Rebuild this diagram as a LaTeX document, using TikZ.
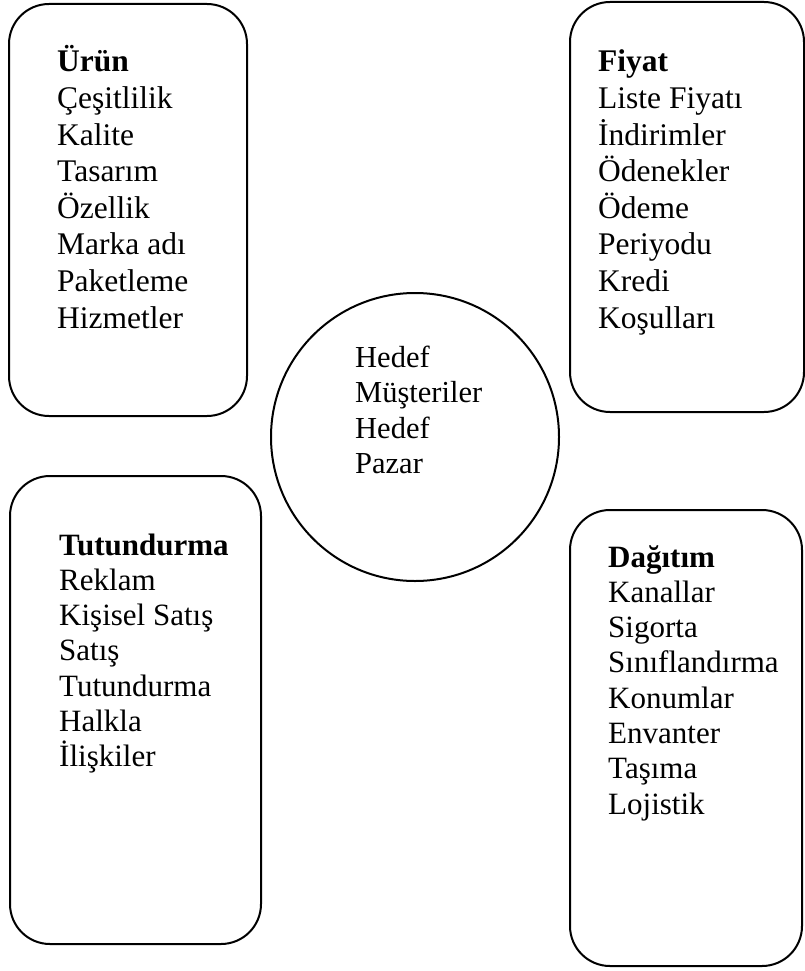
\documentclass[tikz,border=0pt]{standalone}
\usepackage{fontspec}
\setmainfont{Liberation Serif}
\usetikzlibrary{positioning}

\newcommand{\itemlist}[1]{\parbox[t]{200pt}{\raggedright #1}}

\begin{document}
\begin{tikzpicture}[x=1pt, y=-1pt,
  mixbox/.style={draw, rectangle, rounded corners=40pt, line width=2pt, inner sep=0pt},
  mixtext/.style={anchor=base west, inner sep=0pt, font=\fontsize{31.5}{36}\selectfont}]
  \useasboundingbox (0,0) rectangle (805,971);

  % the four boxes and the target in the middle
  \node[mixbox, minimum width=238pt, minimum height=412pt] (urun) at (128,210) {};
  \node[mixbox, minimum width=234pt, minimum height=410pt] (fiyat) at (687,207) {};
  \node[mixbox, minimum width=251pt, minimum height=468pt] (tutundurma) at (135.5,710) {};
  \node[mixbox, minimum width=232pt, minimum height=456pt] (dagitim) at (686,738) {};
  \node[draw, circle, line width=2pt, minimum size=288pt, inner sep=0pt] (hedef) at (415,437) {};

  % texts
  \node[mixtext, font=\fontsize{31.5}{36.6}\selectfont] (urunText) at (57,72) {\itemlist{\textbf{Ürün}\\Çeşitlilik\\Kalite\\Tasarım\\Özellik\\Marka adı\\Paketleme\\Hizmetler}};
  \node[mixtext, font=\fontsize{31.5}{36.6}\selectfont] (fiyatText) at (598,72) {\itemlist{\textbf{Fiyat}\\Liste Fiyatı\\İndirimler\\Ödenekler\\Ödeme\\Periyodu\\Kredi\\Koşulları}};
  \node[mixtext, font=\fontsize{31}{35.3}\selectfont] (tutundurmaText) at (59,555) {\itemlist{\textbf{Tutundurma}\\Reklam\\Kişisel Satış\\Satış\\Tutundurma\\Halkla\\İlişkiler}};
  \node[mixtext, font=\fontsize{31}{35.3}\selectfont] (dagitimText) at (608,567) {\itemlist{\textbf{Dağıtım}\\Kanallar\\Sigorta\\Sınıflandırma\\Konumlar\\Envanter\\Taşıma\\Lojistik}};
  \node[mixtext, font=\fontsize{30.5}{35.5}\selectfont] (hedefText) at (355,367) {\itemlist{Hedef\\Müşteriler\\Hedef\\Pazar}};
\end{tikzpicture}
\end{document}
